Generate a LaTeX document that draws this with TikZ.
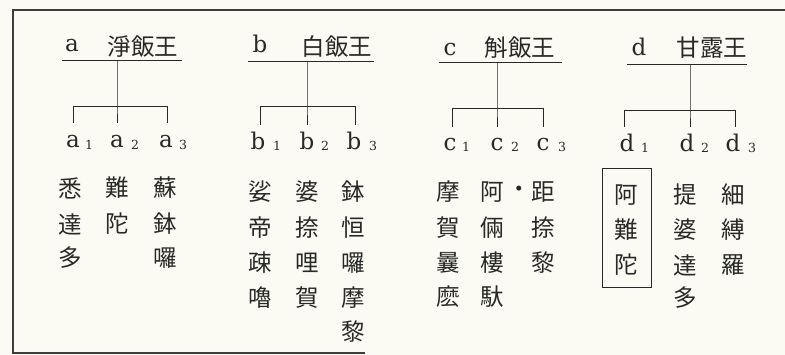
\documentclass[tikz,border=0pt]{standalone}
\usepackage{fontspec}
\newfontfamily\cjk{Noto Sans CJK JP}
\newfontfamily\latf{DejaVu Serif}
\definecolor{ink}{RGB}{40,40,40}
\definecolor{paper}{RGB}{251,251,243}
\tikzset{
 cj/.style={font=\cjk\fontsize{23.5}{23.5}\selectfont, text=ink, inner sep=0pt},
 lat/.style={font=\latf\fontsize{23}{23}\selectfont, text=ink, inner sep=0pt},
 subd/.style={font=\latf\fontsize{12.5}{12.5}\selectfont, text=ink, inner sep=0pt, anchor=base},
 tree/.style={draw=ink, line width=0.9pt},
 frameline/.style={draw=ink!90, line width=1.1pt},
}
\begin{document}
\begin{tikzpicture}[x=1pt,y=-1pt]
\fill[paper] (0,0) rectangle (785,355);
\useasboundingbox (0,0) rectangle (785,355);
% frame
\coordinate (f1) at (13,353);
\coordinate (f2) at (13,10);
\coordinate (f3) at (785,10);
\coordinate (f4) at (365,353);
\draw[frameline] (f4) -- (f1) -- (f2) -- (f3);

% ===== group a =====
\node[lat] (ha) at (72,46) {a};
\node[cj] (hat) at (143,47) {淨飯王};
\coordinate (ual) at (62,60); \coordinate (uar) at (182,60);
\coordinate (uam) at (117,60); \coordinate (kam) at (117,106);
\coordinate (ka1) at (73,106); \coordinate (ka3) at (167,106);
\coordinate (da1) at (73,123); \coordinate (da2) at (117,123); \coordinate (da3) at (167,123);
\draw[tree] (ual) -- (uar);
\draw[tree] (uam) -- (kam) -- (da2);
\draw[tree] (da1) -- (ka1) -- (ka3) -- (da3);
\node[lat,anchor=base] (la1) at (73,148) {a};
\node[subd] (sa1) at (89,150) {1};
\node[lat,anchor=base] (la2) at (117,148) {a};
\node[subd] (sa2) at (135,150) {2};
\node[lat,anchor=base] (la3) at (166,148) {a};
\node[subd] (sa3) at (183,150) {3};
\node[cj] (a1-1) at (70,188) {悉};
\node[cj] (a1-2) at (70,224) {達};
\node[cj] (a1-3) at (70,258) {多};
\node[cj] (a2-1) at (117,188) {難};
\node[cj] (a2-2) at (117,224) {陀};
\node[cj] (a3-1) at (165,188) {蘇};
\node[cj] (a3-2) at (165,224) {鉢};
\node[cj] (a3-3) at (165,258) {囉};

% ===== group b =====
\node[lat] (hb) at (260,44) {b};
\node[cj] (hbt) at (337,47) {白飯王};
\coordinate (ubl) at (248,61); \coordinate (ubr) at (374,61);
\coordinate (ubm) at (307,61); \coordinate (kbm) at (307,106);
\coordinate (kb1) at (260,106); \coordinate (kb3) at (355,106);
\coordinate (db1) at (260,125); \coordinate (db2) at (307,125); \coordinate (db3) at (355,125);
\draw[tree] (ubl) -- (ubr);
\draw[tree] (ubm) -- (kbm) -- (db2);
\draw[tree] (db1) -- (kb1) -- (kb3) -- (db3);
\node[lat,anchor=base] (lb1) at (258,150) {b};
\node[subd] (sb1) at (277,151) {1};
\node[lat,anchor=base] (lb2) at (307,150) {b};
\node[subd] (sb2) at (325,151) {2};
\node[lat,anchor=base] (lb3) at (354,150) {b};
\node[subd] (sb3) at (373,151) {3};
\node[cj] (b1-1) at (260,192) {娑};
\node[cj] (b1-2) at (260,228) {帝};
\node[cj] (b1-3) at (260,263) {疎};
\node[cj] (b1-4) at (260,298) {嚕};
\node[cj] (b2-1) at (307,192) {婆};
\node[cj] (b2-2) at (307,228) {捺};
\node[cj] (b2-3) at (307,263) {哩};
\node[cj] (b2-4) at (307,298) {賀};
\node[cj] (b3-1) at (353,192) {鉢};
\node[cj] (b3-2) at (353,228) {恒};
\node[cj] (b3-3) at (353,263) {囉};
\node[cj] (b3-4) at (353,298) {摩};
\node[cj] (b3-5) at (353,332) {黎};

% ===== group c =====
\node[lat] (hc) at (450,50) {c};
\node[cj] (hct) at (520,48) {斛飯王};
\coordinate (ucl) at (439,62); \coordinate (ucr) at (562,62);
\coordinate (ucm) at (497,62); \coordinate (kcm) at (497,108);
\coordinate (kc1) at (452,108); \coordinate (kc3) at (543,108);
\coordinate (dc1) at (452,127); \coordinate (dc2) at (497,127); \coordinate (dc3) at (543,127);
\draw[tree] (ucl) -- (ucr);
\draw[tree] (ucm) -- (kcm) -- (dc2);
\draw[tree] (dc1) -- (kc1) -- (kc3) -- (dc3);
\node[lat,anchor=base] (lc1) at (450,151) {c};
\node[subd] (sc1) at (466,152) {1};
\node[lat,anchor=base] (lc2) at (497,151) {c};
\node[subd] (sc2) at (515,152) {2};
\node[lat,anchor=base] (lc3) at (543,151) {c};
\node[subd] (sc3) at (562,152) {3};
\node[cj] (c1-1) at (448,192) {摩};
\node[cj] (c1-2) at (448,228) {賀};
\node[cj] (c1-3) at (448,263) {曩};
\node[cj] (c1-4) at (448,297) {麽};
\node[cj] (c2-1) at (492,192) {阿};
\node[cj] (c2-2) at (492,228) {倆};
\node[cj] (c2-3) at (492,263) {樓};
\node[cj] (c2-4) at (492,297) {馱};
\node[cj] (cdot) at (519,192) {・};
\node[cj] (c3-1) at (543,192) {距};
\node[cj] (c3-2) at (543,228) {捺};
\node[cj] (c3-3) at (543,263) {黎};

% ===== group d =====
\node[lat] (hd) at (639,47) {d};
\node[cj] (hdt) at (712,48) {甘露王};
\coordinate (udl) at (627,64); \coordinate (udr) at (747,64);
\coordinate (udm) at (690,64); \coordinate (kdm) at (690,110);
\coordinate (kd1) at (624,110); \coordinate (kd3) at (735,110);
\coordinate (dd1) at (624,127); \coordinate (dd2) at (690,127); \coordinate (dd3) at (735,127);
\draw[tree] (udl) -- (udr);
\draw[tree] (udm) -- (kdm) -- (dd2);
\draw[tree] (dd1) -- (kd1) -- (kd3) -- (dd3);
\node[lat,anchor=base] (ld1) at (627,152) {d};
\node[subd] (sd1) at (645,153) {1};
\node[lat,anchor=base] (ld2) at (687,152) {d};
\node[subd] (sd2) at (705,153) {2};
\node[lat,anchor=base] (ld3) at (733,152) {d};
\node[subd] (sd3) at (752,153) {3};
\node[draw=ink, line width=0.9pt, minimum width=49pt, minimum height=119pt, inner sep=0pt] (dbox) at (626.5,227.5) {};
\node[cj] (d1-1) at (626,195) {阿};
\node[cj] (d1-2) at (626,230) {難};
\node[cj] (d1-3) at (626,265) {陀};
\node[cj] (d2-1) at (685,195) {提};
\node[cj] (d2-2) at (685,230) {婆};
\node[cj] (d2-3) at (685,265) {達};
\node[cj] (d2-4) at (685,298) {多};
\node[cj] (d3-1) at (733,195) {細};
\node[cj] (d3-2) at (733,230) {縛};
\node[cj] (d3-3) at (733,265) {羅};
\end{tikzpicture}
\end{document}
